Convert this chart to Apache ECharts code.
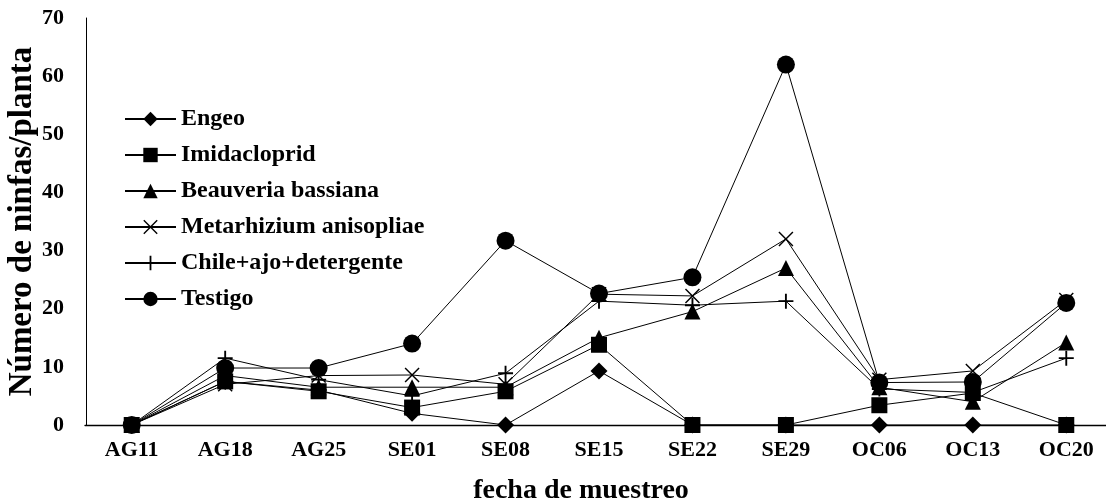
<!DOCTYPE html>
<html>
<head>
<meta charset="utf-8">
<script src="https://cdn.jsdelivr.net/npm/echarts@6/dist/echarts.min.js"></script>
<style>
html,body{margin:0;padding:0;background:#fff;}
#chart{width:1106px;height:504px;}
</style>
</head>
<body>
<div id="chart"></div>
<script>
var categories = ['AG11','AG18','AG25','SE01','SE08','SE15','SE22','SE29','OC06','OC13','OC20'];
var yTicks = [0,10,20,30,40,50,60,70];
var engeo        = [0, 7.5, 6.0, 2.0, 0, 9.3, 0, 0, 0, 0, 0];
var imidacloprid = [0, 7.5, 5.8, 3.0, 5.8, 13.8, 0, 0, 3.4, 5.5, 0];
var beauveria    = [0, 8.5, 6.5, 6.5, 6.5, 15.0, 19.5, 27.0, 6.5, 4.0, 14.2];
var metarhizium  = [0, 7.0, 8.5, 8.6, 7.0, 22.5, 22.2, 32.0, 7.8, 9.3, 21.5];
var chile        = [0, 11.5, 7.8, 5.0, 8.9, 21.3, 20.6, 21.3, 6.2, 5.6, 11.5];
var testigo      = [0, 9.8, 9.8, 14.0, 31.7, 22.6, 25.4, 62.0, 7.3, 7.4, 21.0];
var seriesNames = ['Engeo','Imidacloprid','Beauveria bassiana','Metarhizium anisopliae','Chile+ajo+detergente','Testigo'];

var FONT = '"Liberation Serif", "Times New Roman", serif';
var PLUS = 'path://M7,0H9V7H16V9H9V16H7V9H0V7H7Z';
var CROSS = 'path://M0,1.1L1.1,0L8,6.9L14.9,0L16,1.1L9.1,8L16,14.9L14.9,16L8,9.1L1.1,16L0,14.9L6.9,8Z';

function mk(name, data, symbol, size) {
  return {
    name: name, type: 'line', data: data,
    symbol: symbol, symbolSize: size, showAllSymbol: true,
    lineStyle: {color: '#000', width: 1},
    itemStyle: {color: '#000', borderWidth: 0},
    emphasis: {disabled: true},
    animation: false
  };
}

var chart = echarts.init(document.getElementById('chart'), null, {renderer: 'canvas'});
chart.setOption({
  backgroundColor: '#fff',
  animation: false,
  grid: {left: 85, right: -7, top: 18, bottom: 79, containLabel: false, outerBoundsMode: 'none'},
  legend: {
    data: seriesNames,
    orient: 'vertical',
    left: 124, top: 107, padding: 0,
    itemWidth: 51, itemHeight: 18, itemGap: 12,
    textStyle: {fontFamily: FONT, fontWeight: 'bold', fontSize: 24, color: '#000'},
    inactiveColor: '#000'
  },
  xAxis: {
    type: 'category',
    data: categories,
    boundaryGap: true,
    axisLine: {lineStyle: {color: '#000', width: 1.3}},
    axisTick: {show: false},
    axisLabel: {fontFamily: FONT, fontWeight: 'bold', fontSize: 22, color: '#000', margin: 14, interval: 0},
    splitLine: {show: false},
    name: 'fecha de muestreo',
    nameLocation: 'middle',
    nameGap: 52,
    nameMoveOverlap: false,
    nameTextStyle: {fontFamily: FONT, fontWeight: 'bold', fontSize: 28, color: '#000', padding: [0, 36, 0, 0]}
  },
  yAxis: {
    type: 'value',
    min: yTicks[0], max: yTicks[yTicks.length - 1], interval: 10,
    offset: -1,
    axisLine: {show: true, lineStyle: {color: '#000', width: 1}},
    axisTick: {show: false},
    splitLine: {show: false},
    axisLabel: {fontFamily: FONT, fontWeight: 'bold', fontSize: 22, color: '#000', margin: 22},
    name: 'Número de ninfas/planta',
    nameLocation: 'middle',
    nameGap: 47,
    nameMoveOverlap: false,
    nameTextStyle: {fontFamily: FONT, fontWeight: 'bold', fontSize: 33, color: '#000'}
  },
  series: [
    mk(seriesNames[0], engeo, 'diamond', 17),
    mk(seriesNames[1], imidacloprid, 'rect', 16),
    mk(seriesNames[2], beauveria, 'triangle', 16),
    mk(seriesNames[3], metarhizium, CROSS, 15),
    mk(seriesNames[4], chile, PLUS, 15),
    mk(seriesNames[5], testigo, 'circle', 18)
  ]
});
</script>
</body>
</html>
